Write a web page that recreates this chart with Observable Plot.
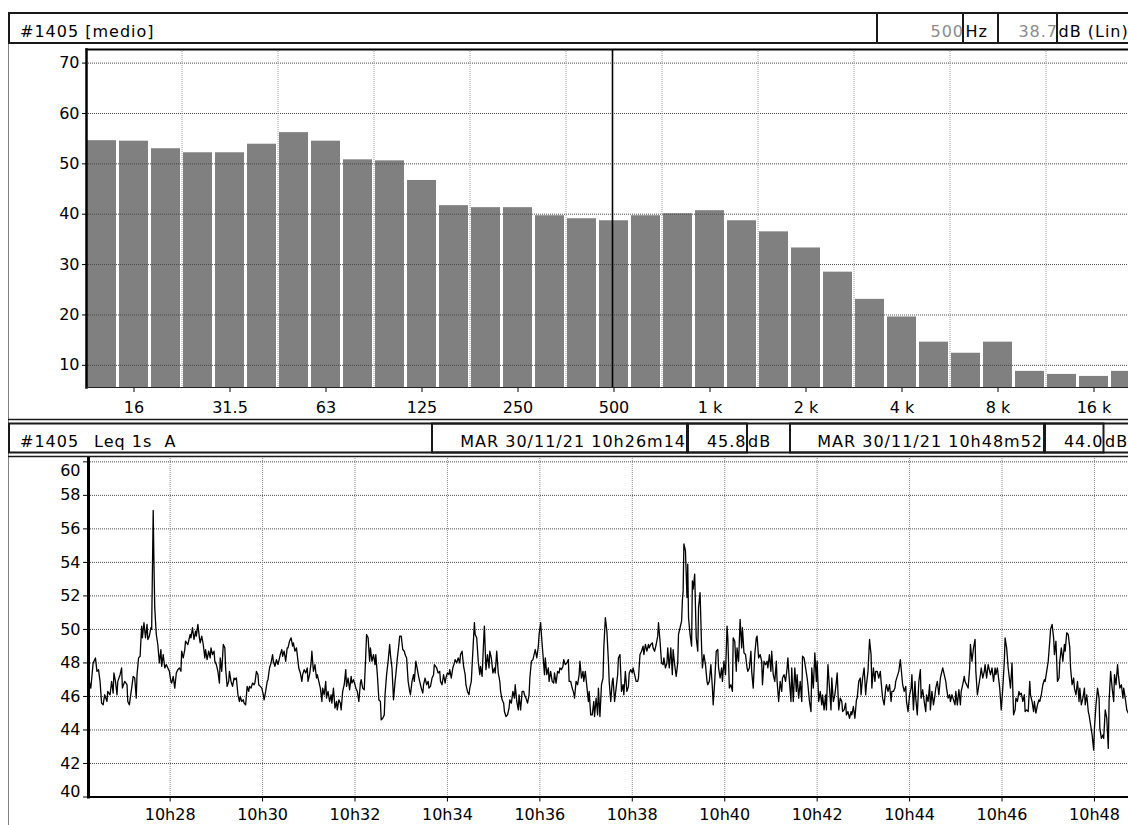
<!DOCTYPE html>
<html><head><meta charset="utf-8">
<script src="https://cdn.jsdelivr.net/npm/d3@7"></script>
<script src="https://cdn.jsdelivr.net/npm/@observablehq/plot@0.6"></script>
<style>
html,body{margin:0;padding:0;background:#fff;overflow:hidden;width:1128px;height:825px}
#root{position:relative;width:1128px;height:825px;overflow:hidden;background:#fff}
#top,#bottom{position:absolute;left:0}
#top{top:44px}
#bottom{top:456px}
#chrome{position:absolute;left:0;top:0;pointer-events:none}
#chrome text{font-family:"DejaVu Sans",sans-serif;font-size:16px;letter-spacing:1px;fill:#000}
#chrome text.val{fill:#8c8c8c}
</style></head>
<body>
<div id="root">
  <div id="top"></div>
  <div id="bottom"></div>
  <svg id="chrome" width="1128" height="825">
    <line x1="8.5" y1="12" x2="8.5" y2="825" stroke="#808080" stroke-width="1"/>
    <rect x="9" y="13" width="1130" height="30" fill="none" stroke="#1a1a1a" stroke-width="2"/>
    <rect x="877" y="13" width="86" height="30" fill="none" stroke="#1a1a1a" stroke-width="2"/>
    <rect x="998" y="13" width="59" height="30" fill="none" stroke="#1a1a1a" stroke-width="2"/>
    <text id="h1title" x="20" y="36.7"></text>
    <text id="h1freq" class="val" x="964" y="36.7" text-anchor="end"></text>
    <text x="965.5" y="36.7">Hz</text>
    <text id="h1lev" class="val" x="1058" y="36.7" text-anchor="end"></text>
    <text x="1058.5" y="36.7">dB (Lin)</text>
    <line x1="8" y1="419.5" x2="1128" y2="419.5" stroke="#1a1a1a" stroke-width="1.5"/>
    <rect x="9" y="423.5" width="1130" height="29" fill="none" stroke="#1a1a1a" stroke-width="2"/>
    <rect x="432" y="423.5" width="255" height="29" fill="none" stroke="#1a1a1a" stroke-width="2"/>
    <rect x="688" y="423.5" width="59" height="29" fill="none" stroke="#1a1a1a" stroke-width="2"/>
    <rect x="790" y="423.5" width="254" height="29" fill="none" stroke="#1a1a1a" stroke-width="2"/>
    <rect x="1045" y="423.5" width="58.5" height="29" fill="none" stroke="#1a1a1a" stroke-width="2"/>
    <line x1="8" y1="456.5" x2="1128" y2="456.5" stroke="#1a1a1a" stroke-width="1.5"/>
    <text id="h2id" x="20" y="446.7"></text>
    <text id="h2name" x="94" y="446.7" style="white-space:pre"></text>
    <text id="h2start" x="686" y="446.7" text-anchor="end"></text>
    <text id="h2startLev" x="746.5" y="446.7" text-anchor="end"></text>
    <text x="748" y="446.7">dB</text>
    <text id="h2end" x="1043" y="446.7" text-anchor="end"></text>
    <text id="h2endLev" x="1103.5" y="446.7" text-anchor="end"></text>
    <text x="1105" y="446.7">dB</text>
  </svg>
</div>
<script>
// ---------- header values ----------
const stationId = "#1405";
const spectrumTitle = "[medio]";
const cursorFreq = "500";
const cursorLevel = 38.7;
const seriesName = "Leq 1s  A";
const startStamp = "MAR 30/11/21 10h26m14";
const startLevel = 45.8;
const endStamp = "MAR 30/11/21 10h48m52";
const endLevel = 44.0;

// ---------- spectrum (1/3 octave, dB Lin) ----------
const freqLabels = ["12.5","16","20","25","31.5","40","50","63","80","100","125","160","200","250","315","400","500","630","800","1 k","1.25 k","1.6 k","2 k","2.5 k","3.15 k","4 k","5 k","6.3 k","8 k","10 k","12.5 k","16 k","20 k"];
const spectrumDb = [54.6,54.5,53.0,52.2,52.2,53.9,56.2,54.5,50.8,50.6,46.7,41.7,41.3,41.3,39.7,39.1,38.7,39.7,40.1,40.7,38.7,36.5,33.3,28.5,23.1,19.6,14.6,12.4,14.6,8.8,8.2,7.8,8.8];
const freqTickLabels = ["16","31.5","63","125","250","500","1 k","2 k","4 k","8 k","16 k"];
const freqGridBefore = ["25","50","100","200","400","800","1.6 k","3.15 k","6.3 k","12.5 k"];
const spectrumYTicks = [10,20,30,40,50,60,70];
const spectrumYDomain = [5.6, 72.7];

// ---------- time history (Leq 1s A) : [seconds after 10h26m14, dB] ----------
const levelTicks = [40,42,44,46,48,50,52,54,56,58,60];
const levelDomain = [40, 60.2];
const timeTickLabels = ["10h28","10h30","10h32","10h34","10h36","10h38","10h40","10h42","10h44","10h46","10h48"];
const leqSamples = [[0,45.8],[1,46.9],[3,46.5],[6,48.0],[9,48.3],[11,47.5],[13,47.6],[15,46.9],[17,45.6],[19,45.5],[21,46.1],[24,45.7],[25,46.3],[28,46.1],[30,46.9],[32,46.2],[33,47.4],[35,46.9],[37,46.1],[38,46.9],[41,47.3],[43,47.7],[44,46.5],[47,46.9],[50,46.7],[51,45.7],[53,45.5],[56,46.5],[58,47.2],[60,47.1],[62,45.9],[63,47.3],[65,48.3],[67,48.4],[69,50.2],[70,49.5],[72,50.4],[74,49.5],[76,50.3],[77,49.4],[79,49.6],[81,50.1],[82,50.0],[84,57.1],[85,53.9],[86,51.3],[88,49.7],[90,49.1],[92,48.0],[94,48.8],[95,47.8],[97,48.5],[99,47.7],[101,47.9],[103,47.7],[105,47.5],[107,46.9],[108,46.8],[110,47.2],[112,46.5],[114,47.4],[116,47.6],[118,47.7],[120,47.5],[121,48.7],[123,48.3],[125,48.8],[126,49.3],[129,49.1],[132,49.7],[133,49.5],[135,50.1],[137,49.4],[139,49.9],[140,49.6],[142,50.3],[144,49.5],[145,49.2],[147,49.6],[149,49.1],[151,48.3],[152,48.8],[154,48.2],[156,48.7],[158,48.3],[159,48.9],[161,48.5],[163,48.7],[164,48.1],[166,47.9],[168,47.5],[170,46.8],[171,48.3],[173,47.5],[175,49.1],[177,48.9],[178,47.7],[180,46.6],[182,46.9],[183,47.5],[185,46.9],[187,46.6],[189,47.1],[190,47.0],[192,47.1],[194,46.1],[196,45.7],[197,46.0],[199,45.7],[201,45.8],[202,45.6],[204,45.5],[206,46.6],[208,46.3],[209,46.6],[211,46.5],[213,46.8],[215,46.7],[216,46.8],[218,47.5],[220,47.3],[221,46.7],[223,46.6],[225,46.5],[227,46.1],[228,45.8],[230,46.3],[232,46.9],[233,47.0],[235,47.7],[237,48.0],[239,48.5],[240,48.1],[242,47.8],[244,48.2],[246,47.9],[247,48.1],[249,48.5],[251,48.8],[252,48.4],[254,48.7],[256,48.1],[258,48.9],[259,48.9],[261,49.3],[263,49.5],[265,49.0],[266,49.2],[268,48.7],[270,48.9],[271,48.5],[273,47.7],[275,47.4],[277,46.9],[278,47.3],[280,47.6],[282,47.4],[284,47.7],[285,46.9],[287,47.3],[289,48.0],[290,48.7],[292,47.5],[294,47.9],[296,47.1],[297,47.3],[299,46.9],[301,46.5],[303,45.7],[304,46.5],[306,46.1],[308,46.9],[309,45.9],[311,46.3],[313,45.7],[315,46.1],[316,45.6],[318,46.5],[320,45.3],[322,45.7],[323,45.2],[325,45.8],[327,45.6],[328,45.2],[330,46.3],[332,46.7],[334,47.6],[335,46.6],[337,47.1],[339,46.4],[341,47.2],[342,46.8],[344,47.0],[346,46.7],[347,46.5],[349,46.3],[351,45.7],[353,46.8],[354,47.0],[356,46.5],[358,46.4],[360,48.5],[361,49.7],[363,49.5],[365,48.1],[366,48.9],[368,48.1],[370,48.5],[372,47.9],[373,48.5],[375,47.3],[377,45.8],[379,45.7],[380,44.6],[382,44.7],[384,44.9],[385,46.1],[387,47.3],[389,48.1],[391,49.1],[392,48.5],[394,47.7],[396,45.8],[398,46.9],[399,47.3],[401,48.3],[403,49.1],[404,49.6],[406,49.6],[408,48.8],[410,48.7],[411,48.5],[413,48.3],[415,46.9],[417,46.3],[418,46.1],[420,46.9],[422,47.3],[423,46.9],[425,48.1],[427,47.6],[429,47.1],[430,46.9],[432,46.5],[434,46.2],[435,46.7],[437,47.1],[439,46.7],[441,46.9],[442,46.5],[444,46.6],[446,47.1],[448,47.3],[449,47.9],
[452,47.7],[454,47.4],[456,47.5],[457,46.9],[459,46.7],[461,47.3],[463,46.8],[464,47.1],[466,47.4],[468,47.3],[469,47.6],[471,47.1],[473,47.7],[475,48.0],[476,48.2],[478,48.0],[480,48.3],[482,48.0],[483,48.5],[485,48.7],[487,47.8],[489,47.3],[490,46.7],[492,46.3],[494,46.1],[495,46.5],[497,46.9],[499,48.7],[501,50.4],[502,49.7],[504,49.5],[506,48.1],[508,47.3],[509,47.8],[511,47.2],[513,49.3],[514,50.2],[516,47.6],[518,48.5],[520,47.7],[521,48.7],[523,48.3],[525,47.4],[527,47.7],[528,47.4],[530,48.7],[532,47.4],[534,46.9],[535,46.3],[537,45.8],[539,45.6],[540,45.1],[542,44.8],[544,44.9],[546,45.3],[547,45.8],[549,45.6],[551,46.3],[553,45.9],[554,46.7],[556,45.7],[558,45.2],[559,46.1],[561,45.2],[563,46.3],[565,46.3],[566,46.1],[568,45.9],[570,45.6],[572,46.1],[573,47.1],[575,48.1],[577,48.2],[579,48.6],[580,48.8],[582,48.3],[584,49.0],[585,49.7],[587,50.4],[588,49.7],[590,48.5],[592,47.3],[593,48.3],[595,47.3],[597,47.7],[598,46.9],[600,47.5],[602,46.9],[604,46.8],[605,47.4],[607,46.8],[609,47.5],[611,47.4],[612,47.7],[614,47.6],[616,47.8],[617,48.2],[619,47.9],[621,48.0],[623,48.2],[624,46.9],[626,46.9],[628,46.5],[630,46.2],[631,45.9],[633,46.9],[635,46.7],[637,47.3],[638,48.1],[640,47.1],[642,47.5],[643,46.9],[645,47.5],[647,46.6],[649,45.7],[650,46.3],[652,44.9],[654,44.9],[656,45.7],[657,44.8],[659,45.9],[661,44.9],[662,46.5],[664,44.8],[666,46.7],[668,47.1],[669,48.9],[671,50.7],[673,49.9],[675,48.1],[676,46.9],[678,45.7],[680,46.9],[681,47.1],[683,45.7],[685,46.5],[687,47.3],[688,48.3],[690,48.5],[692,46.3],[694,46.7],[695,46.1],[697,47.5],[699,46.3],[701,46.6],[702,47.4],[704,47.6],[706,47.4],[707,47.7],[709,47.3],[711,46.9],[713,46.9],[714,47.1],[716,48.5],[718,48.7],[720,49.0],[721,48.5],[723,49.1],[725,48.7],[727,49.1],[728,48.9],[730,49.1],[732,49.2],[733,48.9],[735,48.7],[737,49.1],[739,49.6],[740,50.4],[742,49.3],[744,48.0],[746,47.9],[747,48.3],[749,47.7],[751,48.0],[752,48.9],[754,47.7],[756,48.9],[758,47.3],[759,48.8],[761,47.9],[763,47.2],[765,48.0],[766,49.7],[768,50.1],[770,50.5],[771,51.7],[772,52.3],[773,55.1],[775,54.7],[777,51.9],[778,53.9],[779,50.7],[781,49.7],[783,49.0],[784,52.9],[785,52.4],[787,53.3],[789,49.5],[791,48.7],[792,51.3],[794,52.2],[796,48.9],[797,47.7],[799,48.5],[801,47.9],[803,46.9],[804,46.7],[806,46.9],[808,47.9],[810,46.5],[811,45.5],[813,46.9],[815,48.7],[817,48.8],[818,47.7],[820,47.1],[822,47.7],[823,46.9],[825,48.1],[827,47.3],[829,50.2],[830,49.5],[832,46.5],[834,46.7],[836,46.3],[837,49.5],[839,49.3],[841,47.5],[842,48.9],[844,48.1],[846,50.6],[848,48.9],[849,50.1],[851,48.6],[853,48.5],[855,47.7],[856,47.5],[858,47.7],[860,48.7],[861,47.5],[863,46.5],[865,48.5],[867,49.5],[868,49.6],[870,48.3],[872,48.5],[874,48.1],[875,46.7],[877,48.1],[879,47.9],[881,48.1],[882,47.7],[884,48.5],[886,47.5],[887,48.7],[889,47.3],[891,46.9],[893,48.1],[894,46.9],[896,45.7],
[898,46.9],[900,46.3],[901,47.1],[903,47.3],[905,46.9],[907,47.7],[908,48.3],[910,46.9],[912,45.7],[913,47.7],[915,45.7],[917,47.7],[919,46.3],[920,47.3],[922,45.9],[924,46.9],[926,45.7],[927,48.4],[929,48.3],[931,47.7],[933,47.1],[934,46.7],[936,45.7],[938,45.1],[939,47.7],[941,46.5],[943,48.6],[945,46.9],[946,48.1],[948,45.7],[950,46.3],[952,45.5],[953,46.1],[955,45.2],[957,46.1],[958,45.2],[960,47.9],[962,46.5],[964,45.2],[965,47.1],[967,45.7],[969,46.1],[971,46.9],[972,47.4],[974,45.2],[976,45.9],[978,45.7],[979,45.1],[981,45.2],[983,45.6],[984,44.9],[986,45.1],[988,44.7],[990,45.1],[991,44.9],[993,45.4],[995,44.7],[997,45.8],[998,45.9],[1000,46.9],[1002,47.1],[1003,46.1],[1005,47.1],[1007,47.7],[1009,46.1],[1010,46.7],[1012,47.5],[1014,49.4],[1016,48.5],[1017,46.5],[1019,47.7],[1021,46.9],[1022,47.5],[1024,47.5],[1026,47.1],[1028,47.5],[1029,46.9],[1031,45.9],[1033,45.5],[1035,46.5],[1036,46.7],[1038,46.3],[1040,46.7],[1042,45.7],[1043,46.3],[1045,46.3],[1047,46.5],[1048,46.9],[1050,47.2],[1052,47.5],[1054,48.2],[1055,47.7],[1057,46.7],[1059,46.3],[1061,46.6],[1062,45.7],[1064,45.1],[1066,46.1],[1068,46.5],[1069,47.3],[1071,45.2],[1073,46.9],[1074,45.9],[1076,44.9],[1078,46.9],[1080,47.6],[1081,45.9],[1083,46.4],[1085,45.7],[1087,45.1],[1088,46.1],[1090,45.7],[1092,46.7],[1093,45.2],[1095,46.3],[1097,45.5],[1099,46.1],[1100,46.5],[1102,46.9],[1104,46.1],[1106,47.1],[1107,47.3],[1109,47.7],[1111,47.3],[1113,46.9],[1114,46.5],[1116,45.9],[1118,46.1],[1119,45.7],[1121,46.1],[1123,45.8],[1125,45.5],[1126,46.3],[1128,45.5],[1130,46.4],[1132,45.5],[1133,46.3],[1135,46.7],[1137,47.2],[1138,46.9],[1140,46.7],[1142,46.5],[1144,47.7],[1145,49.1],[1147,48.1],[1149,48.9],[1151,49.4],[1152,47.5],[1154,46.1],[1156,46.7],[1158,47.3],[1159,47.7],[1161,47.1],[1163,47.5],[1164,47.9],[1166,47.1],[1168,47.9],[1170,47.5],[1171,47.3],[1173,47.7],[1175,46.9],[1177,47.7],[1178,47.3],[1180,47.7],[1182,46.9],[1183,46.5],[1185,45.2],[1187,46.5],[1189,48.1],[1190,49.5],[1192,48.9],[1194,47.7],[1196,46.9],[1197,46.5],[1199,48.0],[1201,44.9],[1203,45.2],[1204,45.9],[1206,45.7],[1208,46.3],[1209,46.1],[1211,46.2],[1213,45.7],[1215,46.1],[1216,45.1],[1218,45.2],[1220,45.1],[1222,46.9],[1223,46.1],[1225,45.7],[1227,45.1],[1228,45.7],[1230,45.0],[1232,45.5],[1234,45.8],[1235,45.7],[1237,46.1],[1239,46.7],[1241,47.0],[1242,46.9],[1244,47.5],[1246,48.1],[1248,49.3],[1249,50.0],[1251,50.3],[1253,49.5],[1254,48.5],[1256,49.3],[1258,46.9],[1260,47.1],[1261,48.1],[1263,48.9],[1265,48.1],[1267,49.1],[1268,48.7],[1270,49.8],[1272,49.7],[1274,48.9],[1275,47.7],[1277,46.7],[1279,47.1],[1280,46.5],[1282,46.1],[1284,46.9],[1286,45.7],[1287,46.5],[1289,45.5],[1291,45.9],[1293,46.5],[1294,45.5],[1296,46.1],[1298,45.1],[1299,44.9],[1301,44.3],[1303,43.7],[1305,42.8],[1306,44.1],[1308,45.5],[1310,46.5],[1312,45.9],[1313,44.1],[1315,43.5],[1317,43.7],[1318,43.5],[1320,45.2],[1322,44.7],[1324,42.9],[1325,45.7],[1327,47.5],[1329,46.5],[1331,45.7],[1332,47.3],[1334,46.7],[1336,47.9],[1337,47.3],[1339,46.5],[1341,46.7],[1343,45.9],[1344,46.5],[1346,45.9],[1348,45.2],[1350,45.0]];

// ---------- header text ----------
document.getElementById("h1title").textContent = stationId + " " + spectrumTitle;
document.getElementById("h1freq").textContent = cursorFreq;
document.getElementById("h1lev").textContent = cursorLevel.toFixed(1);
document.getElementById("h2id").textContent = stationId;
document.getElementById("h2name").textContent = seriesName;
document.getElementById("h2start").textContent = startStamp;
document.getElementById("h2startLev").textContent = startLevel.toFixed(1);
document.getElementById("h2end").textContent = endStamp;
document.getElementById("h2endLev").textContent = endLevel.toFixed(1);

const plotStyle = {fontFamily: "DejaVu Sans, sans-serif", fontSize: "16px", color: "#000", background: "transparent", maxWidth: "none", overflow: "visible"};

// ---------- top : spectrum ----------
const specData = freqLabels.map((f, i) => ({freq: f, level: spectrumDb[i]}));
const topPlot = Plot.plot({
  width: 1150, height: 376,
  marginLeft: 86, marginRight: 8, marginTop: 5, marginBottom: 33,
  style: plotStyle,
  x: {type: "band", domain: freqLabels, range: [85, 1141], paddingInner: 0.1, paddingOuter: 0.05, align: 0.5, label: null},
  y: {domain: spectrumYDomain, label: null},
  marks: [
    Plot.barY(specData, {x: "freq", y1: spectrumYDomain[0], y2: "level", fill: "#808080"}),
    Plot.ruleY(spectrumYTicks, {stroke: "#4a4a4a", strokeDasharray: "1,1"}),
    Plot.ruleX(freqGridBefore, {x: d => d, dx: -16, stroke: "#9c9c9c", strokeDasharray: "1,1"}),
    Plot.ruleX([cursorFreq], {x: d => d, dx: -1.5, stroke: "#000", strokeWidth: 1.6}),
    Plot.axisY(spectrumYTicks, {tickSize: 4, tickPadding: 3, label: null}),
    Plot.axisX(freqTickLabels, {tickSize: 5, tickPadding: 9, label: null}),
    Plot.frame({anchor: "left", stroke: "#000", strokeWidth: 2.5}),
    Plot.frame({anchor: "top", stroke: "#000", strokeWidth: 2}),
    Plot.frame({anchor: "bottom", stroke: "#222", strokeWidth: 1})
  ]
});
document.getElementById("top").appendChild(topPlot);

// ---------- bottom : time history ----------
function clockDate(h, m, s) { return new Date(Date.UTC(2021, 10, 30, h, m, s)); }
const tStart = clockDate(10, 26, 14);
const tEnd = clockDate(10, 48, 52);
const leqData = leqSamples.map(([s, v]) => ({t: new Date(tStart.getTime() + s * 1000), v}));
const timeTicks = timeTickLabels.map(l => clockDate(+l.slice(0, 2), +l.slice(3), 0));

const bottomPlot = Plot.plot({
  width: 1140, height: 369,
  marginLeft: 88, marginRight: 6, marginTop: 2, marginBottom: 28.5,
  style: plotStyle,
  x: {type: "utc", domain: [tStart, tEnd], label: null},
  y: {domain: levelDomain, label: null},
  marks: [
    Plot.ruleY(levelTicks.filter(d => d > levelDomain[0]), {stroke: "#4a4a4a", strokeDasharray: "1,1"}),
    Plot.ruleX(timeTicks, {stroke: "#8a8a8a", strokeDasharray: "1,1"}),
    Plot.line(leqData, {x: "t", y: "v", stroke: "#000", strokeWidth: 1.3}),
    Plot.axisY(levelTicks, {tickSize: 5, tickPadding: 3, label: null, tickFormat: d => (d === 40 || d === 60) ? "" : String(d)}),
    Plot.text([levelTicks[0]], {y: d => d, text: d => String(d), frameAnchor: "left", dx: -8, dy: -5, textAnchor: "end"}),
    Plot.text([levelTicks[levelTicks.length - 1]], {y: d => d, text: d => String(d), frameAnchor: "left", dx: -8, dy: 9, textAnchor: "end"}),
    Plot.axisX(timeTicks, {tickSize: 5, tickPadding: 7, label: null, tickFormat: d3.utcFormat("%Hh%M")}),
    Plot.frame({anchor: "left", stroke: "#000", strokeWidth: 3}),
    Plot.frame({anchor: "bottom", stroke: "#000", strokeWidth: 2})
  ]
});
document.getElementById("bottom").appendChild(bottomPlot);
</script>
</body></html>
